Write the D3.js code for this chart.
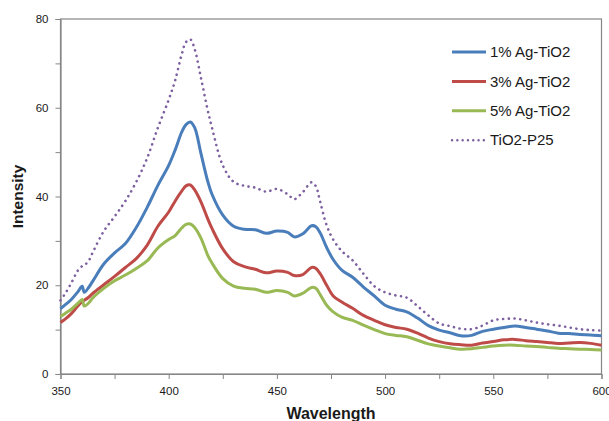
<!DOCTYPE html>
<html>
<head>
<meta charset="utf-8">
<script src="https://cdn.jsdelivr.net/npm/d3@7"></script>
<style>
  html, body { margin: 0; padding: 0; background: #fff; }
  svg { display: block; font-family: "Liberation Sans", Arial, sans-serif; }
</style>
</head>
<body>
<svg id="chart" width="609" height="421"></svg>
<script>
// Emission spectra sampled on a common wavelength grid (nm)
const wavelengths = [350,352,355,358,360,361,363,365,370,375,380,385,390,395,400,403,406,408,410,412,415,418,420,425,430,435,440,445,450,455,458,462,466,468,470,473,476,480,485,490,495,500,505,510,515,520,525,530,535,540,545,550,555,560,565,570,575,580,585,590,595,600];

const ag1 = [14.7,15.5,16.8,18.5,19.8,18.4,19.5,21,24.8,27.3,29.4,33,37.5,42.5,47,50.5,54.5,56.2,56.8,55.5,49.5,43.5,40.5,35.8,33.3,32.6,32.5,31.7,32.2,31.9,30.9,31.6,33.4,33.2,31.8,28.5,25.8,23.4,21.8,19.6,17.6,15.5,14.6,14.0,12.6,10.9,9.9,9.3,8.6,8.7,9.6,10.1,10.5,10.8,10.5,10.1,9.7,9.2,9.1,8.9,8.8,8.6];

const ag3 = [11.6,12.3,13.6,15.3,16.3,16.6,17.3,18.2,20.1,22,24,26,29,33.3,36.5,39,41.2,42.4,42.6,41.5,38.7,35,32.8,28.2,25.3,24.2,23.6,22.8,23.2,22.9,22.2,22.4,24.0,23.8,22.6,20,17.6,16.2,14.8,13.2,12.1,11.1,10.5,10.1,9.2,8.1,7.3,6.8,6.6,6.5,7,7.3,7.7,7.8,7.5,7.3,7.1,6.9,7.0,7.1,6.9,6.5];

const ag5 = [12.9,13.6,14.6,15.9,16.8,15.3,16,17.2,19.3,21,22.3,23.8,25.5,28.4,30.3,31.2,32.9,33.7,33.8,33.0,30.5,26.8,25.0,21.5,19.8,19.3,19.1,18.4,18.8,18.4,17.6,18.2,19.5,19.3,17.9,15.5,14,12.8,12.1,11,10,9.1,8.7,8.4,7.6,6.8,6.3,5.9,5.6,5.7,6.0,6.3,6.5,6.5,6.3,6.2,6.0,5.8,5.7,5.6,5.5,5.4];

const p25 = [16.6,18,20.5,23.3,24.3,24.5,25.5,27.5,32.2,35.5,39,43.3,48.6,55.5,61.8,66.2,72,74.8,75.4,73.2,66.5,59.5,55.5,47,43.3,42.4,42,41.1,41.7,40.5,39.4,41,43.2,42.3,38.8,33.5,30.3,27.7,25.6,22.6,19.8,18.4,17.7,17.2,15.3,13.2,11.4,10.8,10.2,10.1,10.9,12.1,12.4,12.5,12.1,11.6,11.2,10.9,10.5,10.1,9.9,9.8];

const seriesNames = ["1% Ag-TiO2", "3% Ag-TiO2", "5% Ag-TiO2", "TiO2-P25"];
const seriesValues = [ag1, ag3, ag5, p25];
const seriesColors = ["#4A7EBB", "#BE4B48", "#98B954", "#7D60A0"];

const xMajorTicks = [350, 400, 450, 500, 550, 600];
const xMinorTicks = [375, 425, 475, 525, 575];
const yMajorTicks = [0, 20, 40, 60, 80];
const yMinorTicks = [10, 30, 50, 70];

const svg = d3.select("#chart");
const plotLeft = 60.5, plotRight = 601.5, plotTop = 19, plotBottom = 374;

const x = d3.scaleLinear().domain([350, 600]).range([plotLeft, plotRight]);
const y = d3.scaleLinear().domain([0, 80]).range([plotBottom, plotTop]);

const axisColor = "#868686";
const textColor = "#1a1a1a";

// Plot frame
svg.append("rect")
  .attr("x", plotLeft).attr("y", plotTop)
  .attr("width", plotRight - plotLeft).attr("height", plotBottom - plotTop)
  .attr("fill", "none").attr("stroke", axisColor).attr("stroke-width", 1.2);

// Y axis: labelled major ticks plus unlabelled minor ticks
const yAxis = svg.append("g").attr("transform", `translate(${plotLeft},0)`)
  .call(d3.axisLeft(y).tickValues(yMajorTicks.concat(yMinorTicks)).tickSize(5).tickPadding(7)
    .tickFormat(d => yMajorTicks.includes(d) ? d : ""));
yAxis.select(".domain").attr("stroke", axisColor).attr("stroke-width", 1.2);
yAxis.selectAll(".tick line").attr("stroke", axisColor);
yAxis.selectAll(".tick text").attr("fill", textColor).style("font-size", "11.5px")
  .style("font-family", "'Liberation Sans', Arial, sans-serif");

// X axis
const xAxis = svg.append("g").attr("transform", `translate(0,${plotBottom})`)
  .call(d3.axisBottom(x).tickValues(xMajorTicks.concat(xMinorTicks)).tickSize(5).tickPadding(8)
    .tickFormat(d => xMajorTicks.includes(d) ? d : ""));
xAxis.select(".domain").attr("stroke", axisColor).attr("stroke-width", 1.2);
xAxis.selectAll(".tick line").attr("stroke", axisColor);
xAxis.selectAll(".tick text").attr("fill", textColor).style("font-size", "11.5px")
  .style("font-family", "'Liberation Sans', Arial, sans-serif");

// Series lines
const line = d3.line()
  .x((d, i) => x(wavelengths[i]))
  .y(d => y(d))
  .curve(d3.curveCatmullRom.alpha(0.5));

seriesValues.forEach((vals, k) => {
  const path = svg.append("path")
    .datum(vals)
    .attr("d", line)
    .attr("fill", "none")
    .attr("stroke", seriesColors[k]);
  if (k === 3) {
    path.attr("stroke-width", 2.6)
      .attr("stroke-linecap", "round")
      .attr("stroke-dasharray", "0.1 5.6");
  } else {
    path.attr("stroke-width", 3)
      .attr("stroke-linejoin", "round");
  }
});

// Legend
const legend = svg.append("g");
seriesNames.forEach((name, k) => {
  const cy = 52 + k * 29.4;
  const ln = legend.append("line")
    .attr("x1", 452).attr("x2", 486)
    .attr("y1", cy).attr("y2", cy)
    .attr("stroke", seriesColors[k]);
  if (k === 3) {
    ln.attr("stroke-width", 2.4).attr("stroke-linecap", "round").attr("stroke-dasharray", "0.1 5.2");
  } else {
    ln.attr("stroke-width", 3);
  }
  legend.append("text")
    .attr("x", 490).attr("y", cy)
    .attr("dy", "0.35em")
    .attr("fill", textColor)
    .style("font-size", "15px")
    .text(name);
});

// Axis titles
svg.append("text")
  .attr("x", (plotLeft + plotRight) / 2).attr("y", 419)
  .attr("text-anchor", "middle")
  .attr("fill", textColor)
  .style("font-size", "16px").style("font-weight", "bold")
  .text("Wavelength");

svg.append("text")
  .attr("transform", `translate(23,${(plotTop + plotBottom) / 2}) rotate(-90)`)
  .attr("text-anchor", "middle")
  .attr("fill", textColor)
  .style("font-size", "15.5px").style("font-weight", "bold")
  .text("Intensity");
</script>
</body>
</html>
